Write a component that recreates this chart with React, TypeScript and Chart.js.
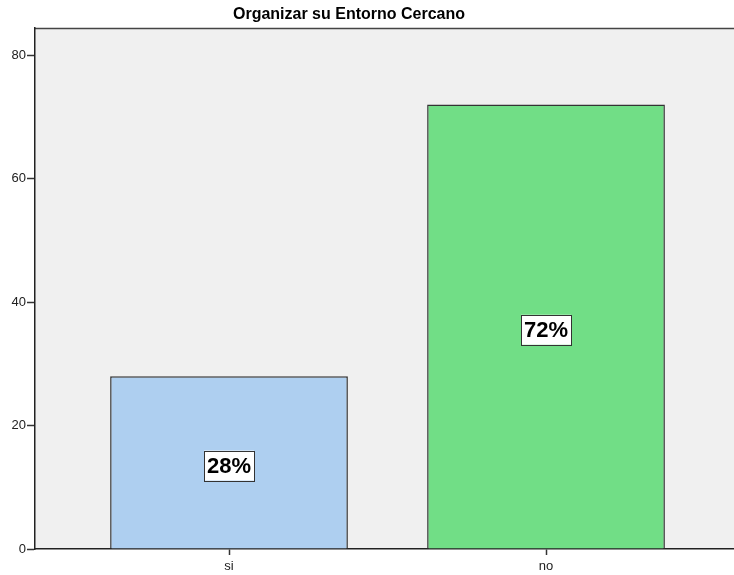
import React, { useEffect, useRef } from 'react';
import { Chart, registerables } from 'chart.js';
Chart.register(...registerables);

const chartTitle = 'Organizar su Entorno Cercano';
const categories = ['si', 'no'];
const values = [28, 72];
const valueLabels = ['28%', '72%'];
const yTickValues = [0, 20, 40, 60, 80];
const barColors = ['#aecff0', '#71de86'];

const FONT = '"Liberation Sans", Arial, sans-serif';

const framePlugin = {
  id: 'frame',
  beforeDraw(chart: any) {
    const { ctx, chartArea } = chart;
    const { left, top, right, bottom } = chartArea;
    ctx.save();
    ctx.fillStyle = '#f0f0f0';
    ctx.fillRect(left, top, right - left, bottom - top);
    ctx.strokeStyle = '#444';
    ctx.lineWidth = 1.5;
    ctx.beginPath();
    ctx.moveTo(left, top + 0.5);
    ctx.lineTo(right, top + 0.5);
    ctx.stroke();
    ctx.fillStyle = '#000';
    ctx.font = `bold 16px ${FONT}`;
    ctx.textAlign = 'center';
    ctx.textBaseline = 'middle';
    ctx.fillText(chartTitle, 349, 15);
    ctx.restore();
  },
};

const labelPlugin = {
  id: 'boxLabels',
  afterDatasetsDraw(chart: any) {
    const { ctx } = chart;
    const meta = chart.getDatasetMeta(0);
    const yScale = chart.scales.y;
    ctx.save();
    ctx.font = `bold 22px ${FONT}`;
    ctx.textAlign = 'center';
    ctx.textBaseline = 'middle';
    meta.data.forEach((bar: any, i: number) => {
      const txt = valueLabels[i];
      const cx = bar.x;
      const cy = yScale.getPixelForValue(values[i] / 2) + 3;
      const w = 50;
      const h = 30;
      ctx.fillStyle = '#ffffff';
      ctx.fillRect(cx - w / 2, cy - h / 2, w, h);
      ctx.strokeStyle = '#333';
      ctx.lineWidth = 1;
      ctx.strokeRect(Math.round(cx - w / 2) + 0.5, Math.round(cy - h / 2) + 0.5, w, h);
      ctx.fillStyle = '#000';
      ctx.fillText(txt, cx, cy + 1);
    });
    ctx.restore();
  },
};

export default function App() {
  const ref = useRef<HTMLCanvasElement>(null);
  useEffect(() => {
    document.body.style.margin = '0';
    const chart = new Chart(ref.current as HTMLCanvasElement, {
      type: 'bar',
      data: {
        datasets: [
          {
            data: values.map((v, i) => ({ x: i, y: v })),
            backgroundColor: barColors,
            borderColor: '#333',
            borderWidth: 1.5,
            barPercentage: 0.75,
            categoryPercentage: 1,
          },
        ],
      },
      options: {
        animation: false,
        responsive: false,
        maintainAspectRatio: false,
        layout: { padding: { left: 0, right: 0, top: 28, bottom: 0 } },
        plugins: {
          legend: { display: false },
          tooltip: { enabled: false },
          title: { display: false },
        },
        scales: {
          x: {
            type: 'linear',
            offset: false,
            min: -0.612,
            max: 1.593,
            afterBuildTicks(scale: any) {
              scale.ticks = categories.map((_, i) => ({ value: i }));
            },
            afterFit(scale: any) {
              scale.height = 26;
            },
            ticks: {
              callback: (v: any) => categories[v] ?? '',
              color: '#222',
              font: { family: FONT, size: 13 },
              padding: 4,
              maxRotation: 0,
            },
            grid: { display: true, offset: false, drawOnChartArea: false, drawTicks: true, tickLength: 6, tickColor: '#333', tickWidth: 1.5 },
            border: { display: true, color: '#222', width: 1.5 },
          },
          y: {
            min: 0,
            max: 84.4,
            afterBuildTicks(scale: any) {
              scale.ticks = yTickValues.map((v) => ({ value: v }));
            },
            afterFit(scale: any) {
              scale.width = 35;
            },
            ticks: {
              color: '#222',
              font: { family: FONT, size: 13 },
              padding: 1,
            },
            grid: { display: true, drawOnChartArea: false, drawTicks: true, tickLength: 8, tickColor: '#333', tickWidth: 1.5 },
            border: { display: true, color: '#222', width: 1.5 },
          },
        },
      },
      plugins: [framePlugin, labelPlugin],
    } as any);
    return () => chart.destroy();
  }, []);
  return <canvas ref={ref} width={734} height={575} style={{ display: 'block' }} />;
}
